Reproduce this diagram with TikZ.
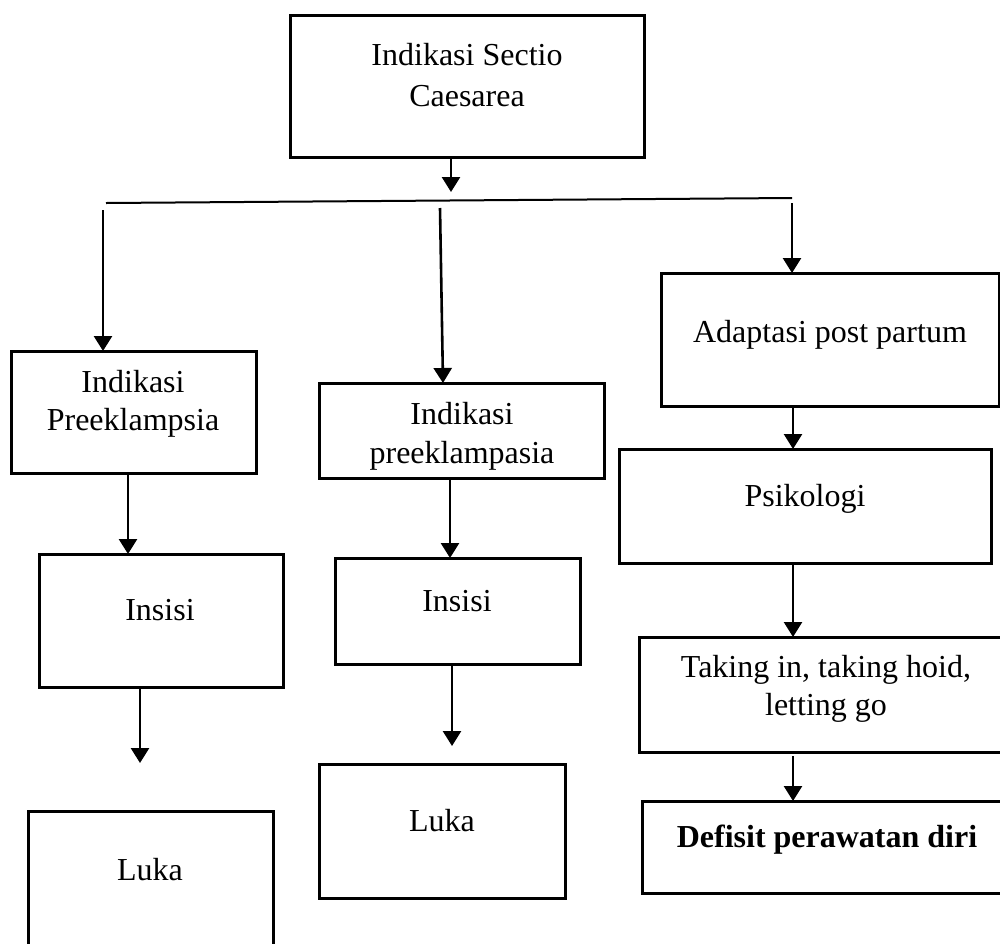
\documentclass[tikz,border=0pt]{standalone}
\usepackage{fontspec}
\setmainfont{Liberation Serif}
\usetikzlibrary{arrows.meta}
\begin{document}
\begin{tikzpicture}[x=1pt,y=-1pt,
  box/.style={draw=black,line width=3pt,rectangle,inner sep=0pt,outer sep=0pt},
  lbl/.style={anchor=base,inner sep=0pt,font=\fontsize{32}{40}\selectfont},
  arr/.style={line width=2.6pt,-{Triangle[width=18pt,length=15pt]}},
  thin/.style={line width=2pt}]
\useasboundingbox (0,0) rectangle (1000,943);
% boxes
\node[box,minimum width=354pt,minimum height=142pt] (top) at (467,86) {};
\node[box,minimum width=245pt,minimum height=122pt] (L1) at (133.5,412) {};
\node[box,minimum width=285pt,minimum height=95pt] (M1) at (461.5,430.5) {};
\node[box,minimum width=338pt,minimum height=133pt] (R1) at (830,339.5) {};
\node[box,minimum width=244pt,minimum height=133pt] (L2) at (161,620.5) {};
\node[box,minimum width=245pt,minimum height=106pt] (M2) at (457.5,611) {};
\node[box,minimum width=372pt,minimum height=114pt] (R2) at (805,506) {};
\node[box,minimum width=245pt,minimum height=169pt] (L3) at (150.5,895.5) {};
\node[box,minimum width=246pt,minimum height=134pt] (M3) at (442,831) {};
\node[box,minimum width=381pt,minimum height=115pt] (R3) at (829.5,694.5) {};
\node[box,minimum width=378pt,minimum height=92pt] (R4) at (831,847) {};
% labels
\node[lbl] (t1) at (467,65) {Indikasi Sectio};
\node[lbl] (t2) at (467,106) {Caesarea};
\node[lbl] (l1a) at (133,392) {Indikasi};
\node[lbl] (l1b) at (133,430) {Preeklampsia};
\node[lbl] (m1a) at (462,424) {Indikasi};
\node[lbl] (m1b) at (462,463) {preeklampasia};
\node[lbl] (r1a) at (830,342) {Adaptasi post partum};
\node[lbl] (l2a) at (160,620) {Insisi};
\node[lbl] (m2a) at (457,611) {Insisi};
\node[lbl] (r2a) at (805,506) {Psikologi};
\node[lbl] (l3a) at (150,880) {Luka};
\node[lbl] (m3a) at (442,831) {Luka};
\node[lbl] (r3a) at (826,677) {Taking in, taking hoid,};
\node[lbl] (r3b) at (826,715) {letting go};
\node[lbl] (r4a) at (827,847) {\bfseries Defisit perawatan diri};
% coordinates
\coordinate (topend) at (451,192);
\coordinate (bl) at (106,203);
\coordinate (br) at (792,198);
\coordinate (a1) at (103,210);
\coordinate (a2) at (440,208);
\coordinate (a3) at (792,203);
\coordinate (l2end) at (140,763);
\coordinate (m2end) at (452,746);
% connectors
\draw[arr] ([xshift=-16pt]top.south) -- (topend);
\draw[thin] (bl) -- (br);
\draw[arr] (a1) -- ([xshift=-30.5pt]L1.north);
\draw[arr] (a2) -- ([xshift=-18.5pt]M1.north);
\draw[arr] (a3) -- ([xshift=-38pt]R1.north);
\draw[arr] ([xshift=-5.5pt]L1.south) -- ([xshift=-33pt]L2.north);
\draw[arr] ([xshift=-21pt]L2.south) -- (l2end);
\draw[arr] ([xshift=-11.5pt]M1.south) -- ([xshift=-7.5pt]M2.north);
\draw[arr] ([xshift=-5.5pt]M2.south) -- (m2end);
\draw[arr] ([xshift=-37pt]R1.south) -- ([xshift=-12pt]R2.north);
\draw[arr] ([xshift=-12pt]R2.south) -- ([xshift=-36.5pt]R3.north);
\draw[arr] ([xshift=-36.5pt,yshift=-4pt]R3.south) -- ([xshift=-38pt]R4.north);
\end{tikzpicture}
\end{document}
